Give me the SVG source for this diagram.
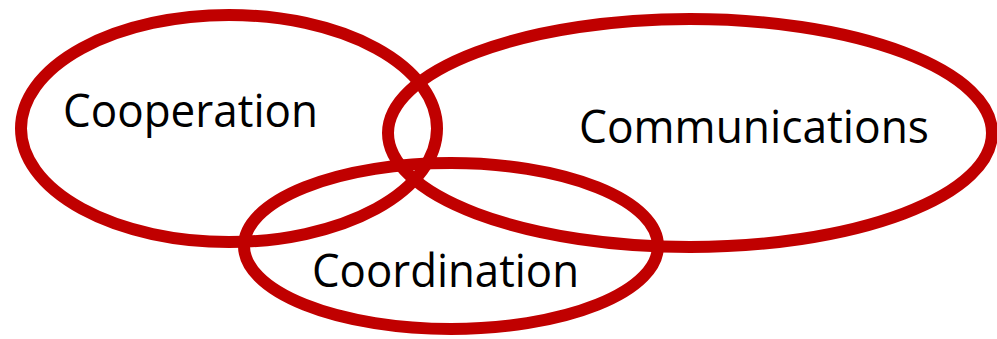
<svg xmlns="http://www.w3.org/2000/svg" width="997" height="339" viewBox="0 0 997 339">
<style>
.ring{fill:none;stroke:#C00000;stroke-width:12}
.lbl{font-family:"Open Sans","Liberation Sans",Arial,sans-serif;font-size:45px;fill:#000}
</style>
<rect width="997" height="339" fill="#fff"/>
<g id="cooperation">
<ellipse class="ring" cx="229" cy="128.5" rx="208" ry="113.5"/>
<text class="lbl" x="63" y="127" textLength="255" lengthAdjust="spacingAndGlyphs">Cooperation</text>
</g>
<g id="communications">
<ellipse class="ring" cx="690" cy="133" rx="302" ry="114"/>
<text class="lbl" x="579" y="143" textLength="350" lengthAdjust="spacingAndGlyphs">Communications</text>
</g>
<g id="coordination">
<ellipse class="ring" cx="451" cy="246" rx="207" ry="83"/>
<text class="lbl" x="312" y="287" textLength="267" lengthAdjust="spacingAndGlyphs">Coordination</text>
</g>
<g id="connectors"/>
</svg>
